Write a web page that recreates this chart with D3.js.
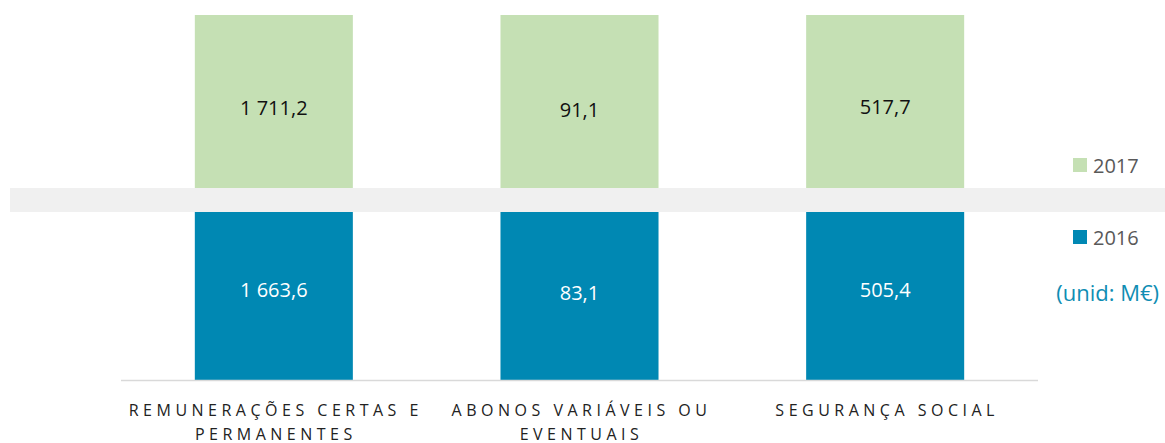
<!DOCTYPE html>
<html>
<head>
<meta charset="utf-8">
<script src="https://cdn.jsdelivr.net/npm/d3@7"></script>
<style>
  body { margin: 0; background: #fff; }
  svg { display: block; font-family: "Open Sans", "Liberation Sans", sans-serif; }
</style>
</head>
<body>
<div id="chart"></div>
<script>
// dados (M€)
const categories = ["REMUNERAÇÕES CERTAS E PERMANENTES", "ABONOS VARIÁVEIS OU EVENTUAIS", "SEGURANÇA SOCIAL"];
const catLines = [["REMUNERAÇÕES CERTAS E", "PERMANENTES"], ["ABONOS VARIÁVEIS OU", "EVENTUAIS"], ["SEGURANÇA SOCIAL"]];
const years = ["2016", "2017"];
const values2016 = [1663.6, 83.1, 505.4];
const values2017 = [1711.2, 91.1, 517.7];
const unitLabel = "(unid: M€)";

const W = 1165, H = 443;
const colors = { "2016": "#0088B3", "2017": "#C5E0B4" };

const svg = d3.select("#chart").append("svg").attr("width", W).attr("height", H);

const rows = categories.map((c, i) => ({ cat: c, "2016": values2016[i], "2017": values2017[i] }));
const series = d3.stack().keys(years).offset(d3.stackOffsetExpand)(rows);

const x = d3.scaleBand().domain(categories).range([121, 1038]).paddingInner(0.483).paddingOuter(0.2415);
const y = d3.scaleLinear().domain([0, 1]).range([380, 15]);

const fmt = v => {
  const s = v.toFixed(1).replace(".", ",");
  const [int, dec] = s.split(",");
  return int.replace(/\B(?=(\d{3})+(?!\d))/g, " ") + "," + dec;
};

// barras
series.forEach(s => {
  svg.append("g").selectAll("rect").data(s).join("rect")
    .attr("x", d => x(d.data.cat))
    .attr("width", x.bandwidth())
    .attr("y", d => y(d[1]))
    .attr("height", d => y(d[0]) - y(d[1]))
    .attr("fill", colors[s.key]);
});

// faixa cinzenta
svg.append("rect").attr("x", 10).attr("y", 188).attr("width", W - 10).attr("height", 24).attr("fill", "#F0F0F0");

// rótulos dos valores
series.forEach(s => {
  svg.append("g").selectAll("text").data(s).join("text")
    .attr("x", d => x(d.data.cat) + x.bandwidth() / 2)
    .attr("y", d => (y(d[0]) + y(d[1])) / 2 + 7)
    .attr("text-anchor", "middle")
    .attr("font-size", 20)
    .attr("fill", s.key === "2016" ? "#fff" : "#111")
    .text(d => fmt(d.data[s.key]));
});

// eixo
svg.append("line").attr("x1", 121).attr("x2", 1038).attr("y1", 380.5).attr("y2", 380.5)
  .attr("stroke", "#D9D9D9").attr("stroke-width", 1.5);

categories.forEach((c, i) => {
  const cx = x(c) + x.bandwidth() / 2 + 2;
  const t = svg.append("text")
    .attr("x", cx)
    .attr("y", 416)
    .attr("text-anchor", "middle")
    .attr("font-size", 16)
    .attr("letter-spacing", 4.5)
    .attr("fill", "#222");
  catLines[i].forEach((l, j) => {
    t.append("tspan").attr("x", cx).attr("dy", j ? 24 : 0).text(l);
  });
});

// legenda
const legend = [{ k: "2017", y: 158 }, { k: "2016", y: 230 }];
legend.forEach(l => {
  svg.append("rect").attr("x", 1073).attr("y", l.y).attr("width", 14).attr("height", 14).attr("fill", colors[l.k]);
  svg.append("text").attr("x", 1093).attr("y", l.y + 15).attr("font-size", 20).attr("fill", "#595959").text(l.k);
});

svg.append("text").attr("x", 1159).attr("y", 301).attr("text-anchor", "end")
  .attr("font-size", 22).attr("fill", "#0F8DB3").text(unitLabel);
</script>
</body>
</html>
